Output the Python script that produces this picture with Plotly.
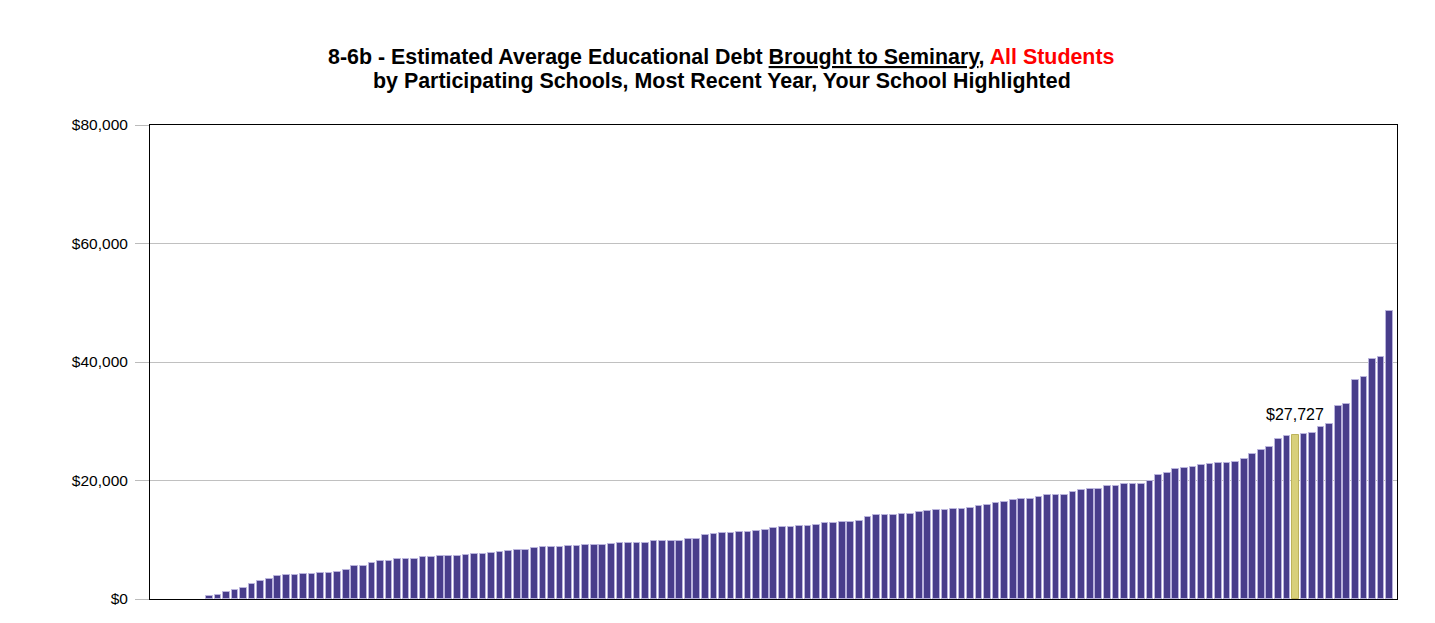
    # Importing the required libraries
import plotly.graph_objects as go

    # Data - schools sorted by average debt (first schools report $0)
debt = [0, 0, 0, 0, 0, 0,
    560, 730, 1130, 1570, 1910, 2580, 3090, 3320, 3830, 4000,
    4000, 4220, 4220, 4340, 4340, 4500, 4950, 5620, 5620, 6130,
    6410, 6410, 6700, 6700, 6750, 7090, 7090, 7260, 7260, 7260,
    7480, 7600, 7650, 7760, 7880, 8100, 8220, 8320, 8550, 8780,
    8780, 8780, 8890, 9000, 9110, 9170, 9170, 9280, 9450, 9500,
    9500, 9500, 9730, 9840, 9840, 9840, 10070, 10070, 10800, 10970,
    11140, 11140, 11310, 11310, 11480, 11590, 11980, 12200, 12200, 12320,
    12320, 12540, 12830, 12830, 12940, 13050, 13160, 13840, 14180, 14180,
    14180, 14290, 14400, 14630, 14850, 15020, 15020, 15240, 15240, 15360,
    15700, 15920, 16200, 16320, 16710, 16820, 16820, 17160, 17500, 17500,
    17580, 18060, 18340, 18510, 18510, 19020, 19130, 19350, 19350, 19470,
    19920, 20870, 21320, 21940, 22050, 22280, 22620, 22840, 22950, 22950,
    23120, 23680, 24470, 25200, 25650, 26950, 27510, 27727, 27850, 27960,
    29030, 29590, 32520, 32970, 37020, 37470, 40560, 40840, 48660]
schools = list(range(len(debt)))
your_school = 133
y_ticks = [0, 20000, 40000, 60000, 80000]
y_tick_labels = ['${:,}'.format(v) for v in y_ticks]

bar_colors = ['#D8D07A' if i == your_school else '#483D8B' for i in schools]
edge_colors = ['#BDB35A' if i == your_school else '#B9B3DC' for i in schools]
edge_widths = [1 if v > 0 else 0 for v in debt]

    #Plotting the bar chart
fig = go.Figure(go.Bar(
    x=schools, y=debt,
    width=0.78,
    marker=dict(color=bar_colors, line=dict(color=edge_colors, width=edge_widths)),
    hoverinfo='y'))

fig.add_annotation(
    x=your_school, y=debt[your_school],
    text='${:,}'.format(debt[your_school]),
    showarrow=False, yanchor='bottom', yshift=10,
    font=dict(size=16, color='#000000'))

    # two line title, second part of line one underlined and red
title_line1 = ('<b>8-6b - Estimated Average Educational Debt <u>Brought to Seminary</u>, '
               '<span style="color:#FF0000">All Students</span></b>')
title_line2 = '<b>by Participating Schools, Most Recent Year, Your School Highlighted</b>'
fig.add_annotation(
    xref='paper', yref='paper', x=0.4585, y=1.1435,
    text=title_line1, showarrow=False, xanchor='center', yanchor='middle',
    font=dict(size=21.4, color='#000000'))
fig.add_annotation(
    xref='paper', yref='paper', x=0.4585, y=1.0928,
    text=title_line2, showarrow=False, xanchor='center', yanchor='middle',
    font=dict(size=21.4, color='#000000'))

fig.update_layout(
    width=1427, height=615,
    margin=dict(l=142, r=38, t=117, b=24),
    paper_bgcolor='white', plot_bgcolor='white',
    font=dict(family='Liberation Sans, Arial, sans-serif', size=15.5, color='#000000'),
    showlegend=False,
    bargap=0)
fig.update_xaxes(
    range=[-0.94, 144.87],
    showticklabels=False, ticks='', showgrid=False, zeroline=False,
    showline=True, linecolor='#000000', linewidth=1, mirror=True)
fig.update_yaxes(
    range=[0, 80000], tickvals=y_ticks, ticktext=y_tick_labels,
    ticks='outside', ticklen=14, tickcolor='#BBBBBB', ticklabelstandoff=4,
    showgrid=True, gridcolor='#C0C0C0', gridwidth=1, zeroline=False,
    showline=True, linecolor='#000000', linewidth=1, mirror=True)

fig.write_html("out.html")
